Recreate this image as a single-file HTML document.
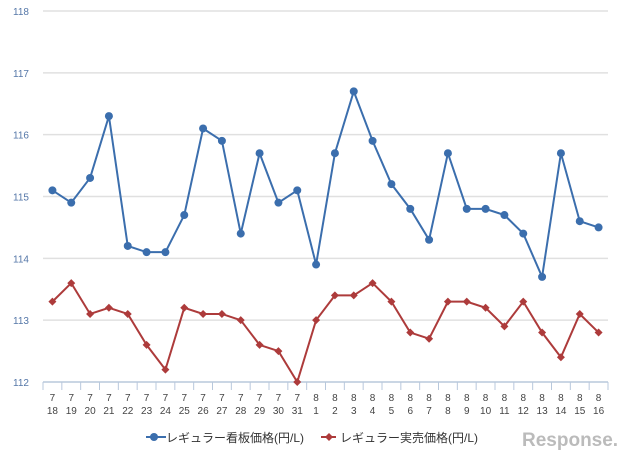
<!DOCTYPE html>
<html><head><meta charset="utf-8"><style>
body{margin:0;background:#fff;}
svg{display:block;font-family:"Liberation Sans","Noto Sans CJK JP",sans-serif;}
</style></head><body>
<svg id="chart" width="640" height="462"></svg>
<script>
const months=["7","7","7","7","7","7","7","7","7","7","7","7","7","7","8","8","8","8","8","8","8","8","8","8","8","8","8","8","8","8"];
const days=["18","19","20","21","22","23","24","25","26","27","28","29","30","31","1","2","3","4","5","6","7","8","9","10","11","12","13","14","15","16"];
const signPrice=[115.1,114.9,115.3,116.3,114.2,114.1,114.1,114.7,116.1,115.9,114.4,115.7,114.9,115.1,113.9,115.7,116.7,115.9,115.2,114.8,114.3,115.7,114.8,114.8,114.7,114.4,113.7,115.7,114.6,114.5];
const actualPrice=[113.3,113.6,113.1,113.2,113.1,112.6,112.2,113.2,113.1,113.1,113.0,112.6,112.5,112.0,113.0,113.4,113.4,113.6,113.3,112.8,112.7,113.3,113.3,113.2,112.9,113.3,112.8,112.4,113.1,112.8];
const yTicks=[112,113,114,115,116,117,118];
const seriesNames=["レギュラー看板価格(円/L)","レギュラー実売価格(円/L)"];

const NS="http://www.w3.org/2000/svg";
const svg=document.getElementById('chart');
const X0=43,X1=608,Y0=382,Y1=11,YMIN=112,YMAX=118;
const cw=(X1-X0)/days.length;
const xs=i=>X0+cw*(i+0.5);
const ys=v=>Y0-(v-YMIN)/(YMAX-YMIN)*(Y0-Y1);
function mk(t,a,p){const e=document.createElementNS(NS,t);for(const k in a)e.setAttribute(k,a[k]);(p||svg).appendChild(e);return e;}

yTicks.forEach(t=>{
  const g=mk('line',{x1:X0,x2:X1,y1:ys(t),y2:ys(t),stroke:t===YMIN?'#b8c8dc':'#e0e0e0','stroke-width':1.5});
  
  
  const l=mk('text',{x:29,y:ys(t)+4,'text-anchor':'end','font-size':10,fill:'#5577a8'});
  l.textContent=t;
  
  
});
for(let i=0;i<=days.length;i++){
  const tk=mk('line',{x1:X0+cw*i,x2:X0+cw*i,y1:Y0,y2:Y0+8,stroke:'#b8c8dc','stroke-width':1});
  
  
}
days.forEach((d,i)=>{
  const t1=mk('text',{x:xs(i),y:401,'text-anchor':'middle','font-size':10,fill:'#444'});
  t1.textContent=months[i];
  
  
  const t2=mk('text',{x:xs(i),y:414,'text-anchor':'middle','font-size':10,fill:'#444'});
  t2.textContent=d;
  
  
});
function series(vals,color,shape,name){
  const g=mk('g',{});
  
  
  mk('polyline',{points:vals.map((v,i)=>xs(i)+','+ys(v)).join(' '),fill:'none',stroke:color,'stroke-width':2},g);
  vals.forEach((v,i)=>{
    let m;
    if(shape==='circle')m=mk('circle',{cx:xs(i),cy:ys(v),r:4,fill:color},g);
    else{const x=xs(i),y=ys(v);m=mk('polygon',{points:`${x},${y-4} ${x+4},${y} ${x},${y+4} ${x-4},${y}`,fill:color},g);}
    
    
  });
}
series(signPrice,'#3b6ead','circle','sign-price-series');
series(actualPrice,'#ad3b3b','diamond','actual-price-series');

const lg=mk('g',{});


mk('line',{x1:146,x2:166,y1:437,y2:437,stroke:'#3b6ead','stroke-width':2},lg);
mk('circle',{cx:154,cy:437,r:4,fill:'#3b6ead'},lg);
const lt1=mk('text',{x:166,y:442,'font-size':12,fill:'#333'},lg);
lt1.textContent=seriesNames[0];


mk('line',{x1:321,x2:336,y1:437,y2:437,stroke:'#ad3b3b','stroke-width':2},lg);
mk('polygon',{points:'329,433 333,437 329,441 325,437',fill:'#ad3b3b'},lg);
const lt2=mk('text',{x:340,y:442,'font-size':12,fill:'#333'},lg);
lt2.textContent=seriesNames[1];



const wm=mk('text',{x:522,y:446,'font-size':19,fill:'#bbb','font-weight':'bold'});
wm.textContent='Response.';


</script>
</body></html>
